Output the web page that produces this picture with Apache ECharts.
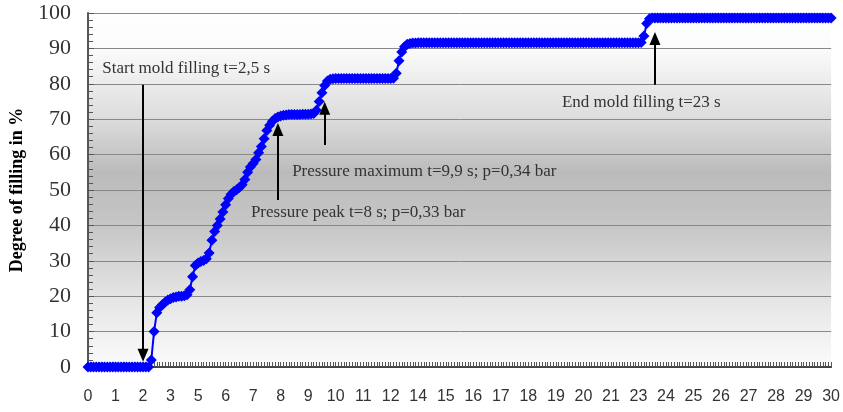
<!DOCTYPE html>
<html><head><meta charset="utf-8">
<script src="https://cdn.jsdelivr.net/npm/echarts@6/dist/echarts.min.js"></script>
<style>html,body{margin:0;padding:0;background:#fff}#c{width:843px;height:412px}</style>
</head><body><div id="c"></div>
<script>
// x tick labels (every 10th sample)
const tickLabels = ['0','1','2','3','5','6','7','8','9','10','11','12','14','15','16','17','18','19','20','21','23','24','25','26','27','28','29','30'];

// degree of filling (%) per sample, 10 samples between tick labels
const fillValues = [
  0,0,0,0,0,0,0,0,0,0,
  0,0,0,0,0,0,0,0,0,0,
  0,0,0,2,10,15.3,16.8,17.6,18.3,18.9,
  19.3,19.6,19.8,20,20,20.1,20.4,21.8,25.5,28.7,
  29.4,29.8,30.1,30.6,32.2,35.8,38.3,40,41.8,43.8,
  45.8,47.6,48.8,49.6,50.1,50.7,51.5,53,55,56.5,
  57.5,58.6,60.5,62.3,64.5,66.8,68.3,69.4,70.2,70.6,
  70.9,71.1,71.2,71.3,71.3,71.3,71.3,71.3,71.4,71.4,
  71.4,71.5,71.6,72.5,75,77.5,79.5,80.8,81.3,81.4,
  81.5,81.5,81.5,81.5,81.5,81.5,81.5,81.5,81.5,81.5,
  81.5,81.5,81.5,81.5,81.5,81.5,81.5,81.5,81.5,81.5,
  81.5,81.6,83,86.5,89,90.5,91.2,91.4,91.5,91.5,
  91.6,91.6,91.6,91.6,91.6,91.6,91.6,91.6,91.6,91.6,
  91.6,91.6,91.6,91.6,91.6,91.6,91.6,91.6,91.6,91.6,
  91.6,91.6,91.6,91.6,91.6,91.6,91.6,91.6,91.6,91.6,
  91.6,91.6,91.6,91.6,91.6,91.6,91.6,91.6,91.6,91.6,
  91.6,91.6,91.6,91.6,91.6,91.6,91.6,91.6,91.6,91.6,
  91.6,91.6,91.6,91.6,91.6,91.6,91.6,91.6,91.6,91.6,
  91.6,91.6,91.6,91.6,91.6,91.6,91.6,91.6,91.6,91.6,
  91.6,91.6,91.6,91.6,91.6,91.6,91.6,91.6,91.6,91.6,
  91.6,91.7,93.5,97,98.4,98.6,98.6,98.6,98.6,98.6,
  98.6,98.6,98.6,98.6,98.6,98.6,98.6,98.6,98.6,98.6,
  98.6,98.6,98.6,98.6,98.6,98.6,98.6,98.6,98.6,98.6,
  98.6,98.6,98.6,98.6,98.6,98.6,98.6,98.6,98.6,98.6,
  98.6,98.6,98.6,98.6,98.6,98.6,98.6,98.6,98.6,98.6,
  98.6,98.6,98.6,98.6,98.6,98.6,98.6,98.6,98.6,98.6,
  98.6,98.6,98.6,98.6,98.6,98.6,98.6,98.6,98.6,98.6,
  98.6
];

// annotation texts and anchors [sample index, value]
const noteTexts = ['Start mold filling t=2,5 s','Pressure maximum t=9,9 s; p=0,34 bar','Pressure peak t=8 s; p=0,33 bar','End mold filling t=23 s'];
const noteAnchors = [[5,84.3],[74,55.3],[59,43.7],[172,74.6]];
// arrows [from, to]
const arrowFrom = [[20,79.7],[86,62.7],[69,47.2],[206,79.7]];
const arrowTo   = [[20,3.3],[86,73.1],[69,67.1],[206,92.8]];

const categories = fillValues.map((v,i)=> i%10===0 ? tickLabels[i/10] : tickLabels[Math.floor(i/10)]+'.'+(i%10));

const chart = echarts.init(document.getElementById('c'), null, {renderer:'canvas'});
chart.setOption({
  animation:false,
  grid:{left:88,right:10,top:13,bottom:45,show:true,borderWidth:0,
    backgroundColor:{type:'linear',x:0,y:0,x2:0,y2:1,colorStops:[
      {offset:0,color:'#ffffff'},{offset:0.1,color:'#fbfbfb'},{offset:0.3,color:'#dcdcdc'},
      {offset:0.45,color:'#bbbbbb'},{offset:0.6,color:'#c6c6c6'},{offset:0.8,color:'#e4e4e4'},{offset:1,color:'#fbfbfb'}]}},
  xAxis:{type:'category',data:categories,boundaryGap:false,
    axisLine:{lineStyle:{color:'#444',width:2}},
    axisTick:{show:true,interval:0,inside:true,length:5,lineStyle:{color:'#555',width:1}},
    axisLabel:{interval:9,fontFamily:'Liberation Sans',fontSize:16,color:'#333',margin:22},
    splitLine:{show:false}},
  yAxis:{type:'value',min:0,max:100,interval:10,
    name:'Degree of filling in %',nameLocation:'middle',nameGap:62,
    nameTextStyle:{fontFamily:'Liberation Serif',fontWeight:'bold',fontSize:18,color:'#000'},
    axisLine:{show:true,lineStyle:{color:'#555',width:2}},
    axisTick:{show:true,inside:true,length:6,lineStyle:{color:'#555'}},
    minorTick:{show:true,splitNumber:5,length:5,lineStyle:{color:'#555'}},
    axisLabel:{fontFamily:'Liberation Serif',fontSize:22,color:'#333',margin:17},
    splitLine:{lineStyle:{color:'#888',width:1}}},
  series:[{
    type:'line',data:fillValues,symbol:'diamond',symbolSize:11,showAllSymbol:true,
    itemStyle:{color:'#0000ff'},lineStyle:{color:'#0000ff',width:2},
    markLine:{silent:true,symbol:['none','triangle'],symbolSize:[11,13],
      lineStyle:{color:'#000',width:2,type:'solid'},itemStyle:{color:'#000'},label:{show:false},
      data:arrowFrom.map((f,i)=>[{coord:f},{coord:arrowTo[i]}])},
    markPoint:{silent:true,symbol:'circle',symbolSize:1,itemStyle:{color:'rgba(0,0,0,0)'},
      label:{show:true,position:'right',distance:0,formatter:'{b}',fontFamily:'Liberation Serif',fontSize:17,color:'#333'},
      data:noteTexts.map((t,i)=>({name:t,coord:noteAnchors[i]}))}
  }]
});
</script></body></html>
